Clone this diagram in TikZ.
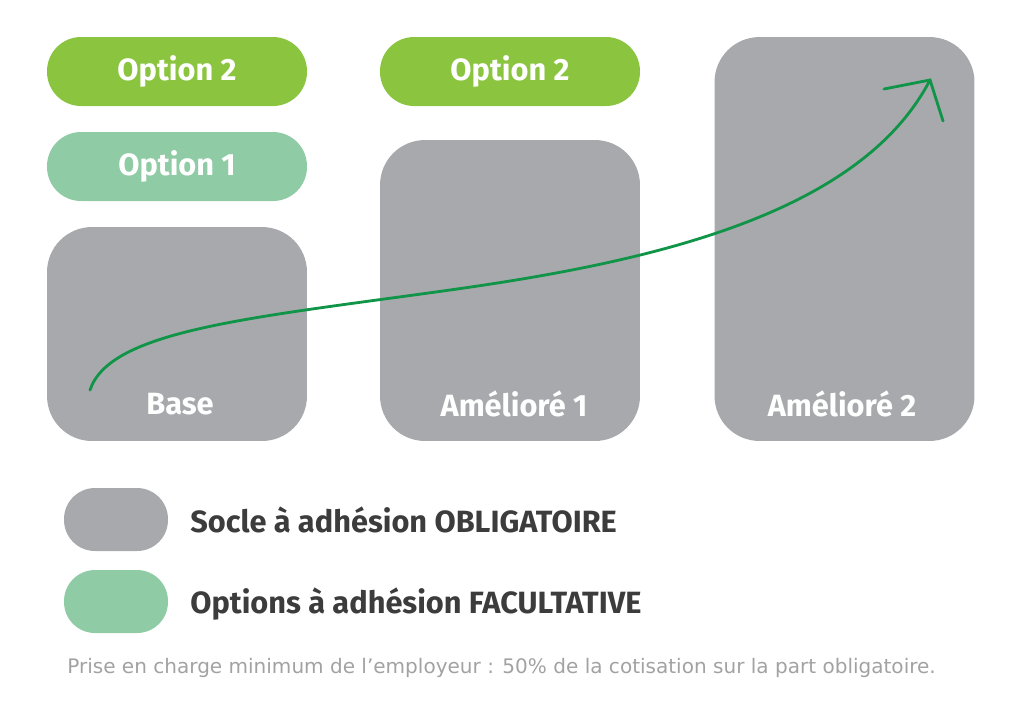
\documentclass[tikz,border=0pt]{standalone}
\usepackage{fontspec}
\setmainfont{Fira Sans}
\newfontfamily\notefont{DejaVu Sans}
\usetikzlibrary{positioning}
\definecolor{gris}{HTML}{A7A9AC}
\definecolor{vertclair}{HTML}{8FCBA4}
\definecolor{vertvif}{HTML}{8BC540}
\definecolor{vertfleche}{HTML}{109448}
\definecolor{textefonce}{HTML}{3C3C3C}
\definecolor{textegris}{HTML}{A2A2A2}
\tikzset{
  pill/.style={rectangle,rounded corners=0.68cm,minimum width=5.2cm,minimum height=1.38cm,inner sep=0pt,
    text=white,font=\fontsize{17.5}{20}\selectfont\bfseries},
  bloc/.style={rectangle,rounded corners=0.9cm,fill=gris,minimum width=5.2cm,inner sep=0pt},
  bloclabel/.style={text=white,font=\fontsize{17.5}{20}\selectfont\bfseries},
  legpill/.style={rectangle,rounded corners=0.62cm,minimum width=2.08cm,minimum height=1.26cm,inner sep=0pt},
  legtext/.style={anchor=west,text=textefonce,font=\fontsize{17.5}{20}\selectfont\bfseries,inner sep=0pt}
}
\begin{document}
\begin{tikzpicture}[x=0.02cm,y=-0.02cm]
  \useasboundingbox (0,0) rectangle (1020,708);
  % columns
  \node [bloc,minimum height=4.28cm] (base) at (177,334) {};
  \node [bloc,minimum height=6.02cm] (amel1) at (510,290.5) {};
  \node [bloc,minimum height=8.08cm] (amel2) at (844.5,239) {};
  \node [pill,fill=vertclair] (opt1) at (177,166.5) {Option 1};
  \node [pill,fill=vertvif] (opt2a) at (177,71.5) {Option 2};
  \node [pill,fill=vertvif] (opt2b) at (510,71.5) {Option 2};
  \node [bloclabel] (lbase) at (180,404) {Base};
  \node [bloclabel] (lamel1) at (514,404) {Amélioré 1};
  \node [bloclabel] (lamel2) at (842,404) {Amélioré 2};
  % growth curve
  \coordinate (start) at (90,390);
  \coordinate (mid) at (450,290);
  \coordinate (tip) at (930,80);
  \coordinate (barbl) at (884,89);
  \coordinate (barbr) at (943,121);
  \draw [vertfleche,line width=1.6pt,line cap=round]
    (start) .. controls (110,330) and (250,318) .. (mid)
            .. controls (650,262) and (860,215) .. (tip);
  \draw [vertfleche,line width=1.6pt,line cap=round,line join=miter] (barbl) -- (tip) -- (barbr);
  % legend
  \node [legpill,fill=gris] (legoblig) at (116,519.5) {};
  \node [legpill,fill=vertclair] (legfacul) at (116,601.5) {};
  \node [legtext] (toblig) at (190,520) {Socle à adhésion OBLIGATOIRE};
  \node [legtext] (tfacul) at (190,604) {Options à adhésion FACULTATIVE};
  \node [anchor=west,inner sep=0pt,text=textegris,font=\notefont\fontsize{11.4}{13}\selectfont] (note) at (67,668)
    {Prise en charge minimum de l’employeur : 50\% de la cotisation sur la part obligatoire.};
\end{tikzpicture}
\end{document}
